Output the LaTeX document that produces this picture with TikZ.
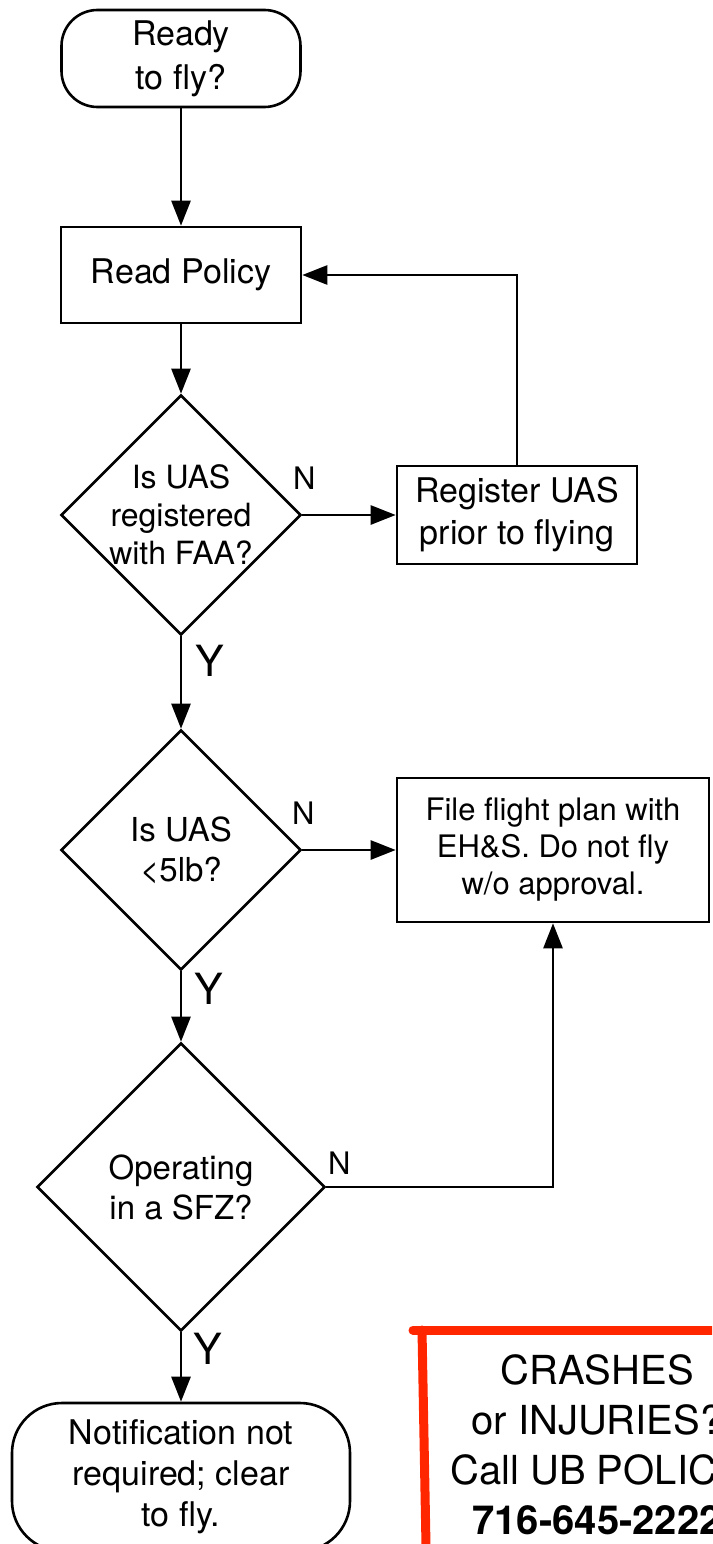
\documentclass[tikz,border=0pt]{standalone}
\usepackage{fontspec}
\setmainfont{TeX Gyre Heros}
\usetikzlibrary{shapes.geometric,arrows.meta,positioning}
\definecolor{alertred}{RGB}{255,38,0}

\begin{document}
\begin{tikzpicture}[x=1pt, y=-1pt, line width=2.6pt,
	every node/.style={font=\fontsize{33}{40}\selectfont, align=center, inner sep=0pt},
	terminal/.style={draw, rounded corners=36pt, minimum width=239pt, minimum height=97pt},
	process/.style={draw, minimum width=240pt, minimum height=98pt},
	decision/.style={draw, diamond, aspect=1, minimum width=240pt, minimum height=240pt},
	answer/.style={font=\fontsize{31}{36}\selectfont},
	yes/.style={font=\fontsize{43}{50}\selectfont},
	flow/.style={-{Triangle[length=25pt,width=19pt]}},]
	\useasboundingbox (0,0) rectangle (712,1544);
	\clip (0,0) rectangle (712,1544);
	\node[terminal, font=\fontsize{34}{44}\selectfont] (start) at (181,58.5) {Ready\\to fly?};
	\node[process, minimum height=96pt, font=\fontsize{34}{40}\selectfont] (policy) at (181,275) {Read Policy};
	\node[decision, label={[font=\fontsize{32}{38}\selectfont]center:{Is UAS\\registered\\with FAA?}}] (registered) at (181,515) {};
	\node[process, font=\fontsize{34}{42}\selectfont] (register) at (517,515) {Register UAS\\prior to flying};
	\node[decision, label={center:{Is UAS\\<5lb?}}] (weight) at (181,850) {};
	\node[process, minimum width=312pt, minimum height=144pt, font=\fontsize{31}{37}\selectfont] (plan) at (553,850) {File flight plan with\\EH\&S. Do not fly\\w/o approval.};
	\node[decision, minimum width=288pt, minimum height=288pt, label={center:{Operating\\in a SFZ?}}] (sfz) at (181,1187) {};
	\node[terminal, rounded corners=50pt, minimum width=338pt, minimum height=148pt, font=\fontsize{34}{41}\selectfont] (clear) at (181,1477) {Notification not\\required; clear\\to fly.};

	% answers
	\node[answer] (n1) at ([shift={(2,-37)}]registered.east) {N};
	\node[answer] (n2) at ([shift={(1,-37)}]weight.east) {N};
	\node[answer] (n3) at ([shift={(13,-24)}]sfz.east) {N};
	\node[yes] (y1) at ([shift={(29,25)}]registered.south) {Y};
	\node[yes] (y2) at ([shift={(28,18)}]weight.south) {Y};
	\node[yes] (y3) at ([shift={(27,17)}]sfz.south) {Y};

	\draw[flow] (start) -- (policy);
	\draw[flow] (policy) -- (registered);
	\draw[flow] (registered) -- (register);
	\draw[flow] (register.north) |- (policy.east);
	\draw[flow] (registered) -- (weight);
	\draw[flow] (weight) -- (plan);
	\draw[flow] (weight) -- (sfz);
	\draw[flow] (sfz.east) -| (plan.south);
	\draw[flow] (sfz) -- (clear);

	% emergency note
	\draw[alertred, line width=9pt, line cap=round] (413,1330) -- (760,1330);
	\draw[alertred, line width=9pt, line cap=round] (422,1330) -- (427,1600);
	\node[font=\fontsize{40}{50}\selectfont] (alert) at (597,1445) {CRASHES\\or INJURIES?\\Call UB POLICE\\\textbf{716-645-2222}};
\end{tikzpicture}
\end{document}
